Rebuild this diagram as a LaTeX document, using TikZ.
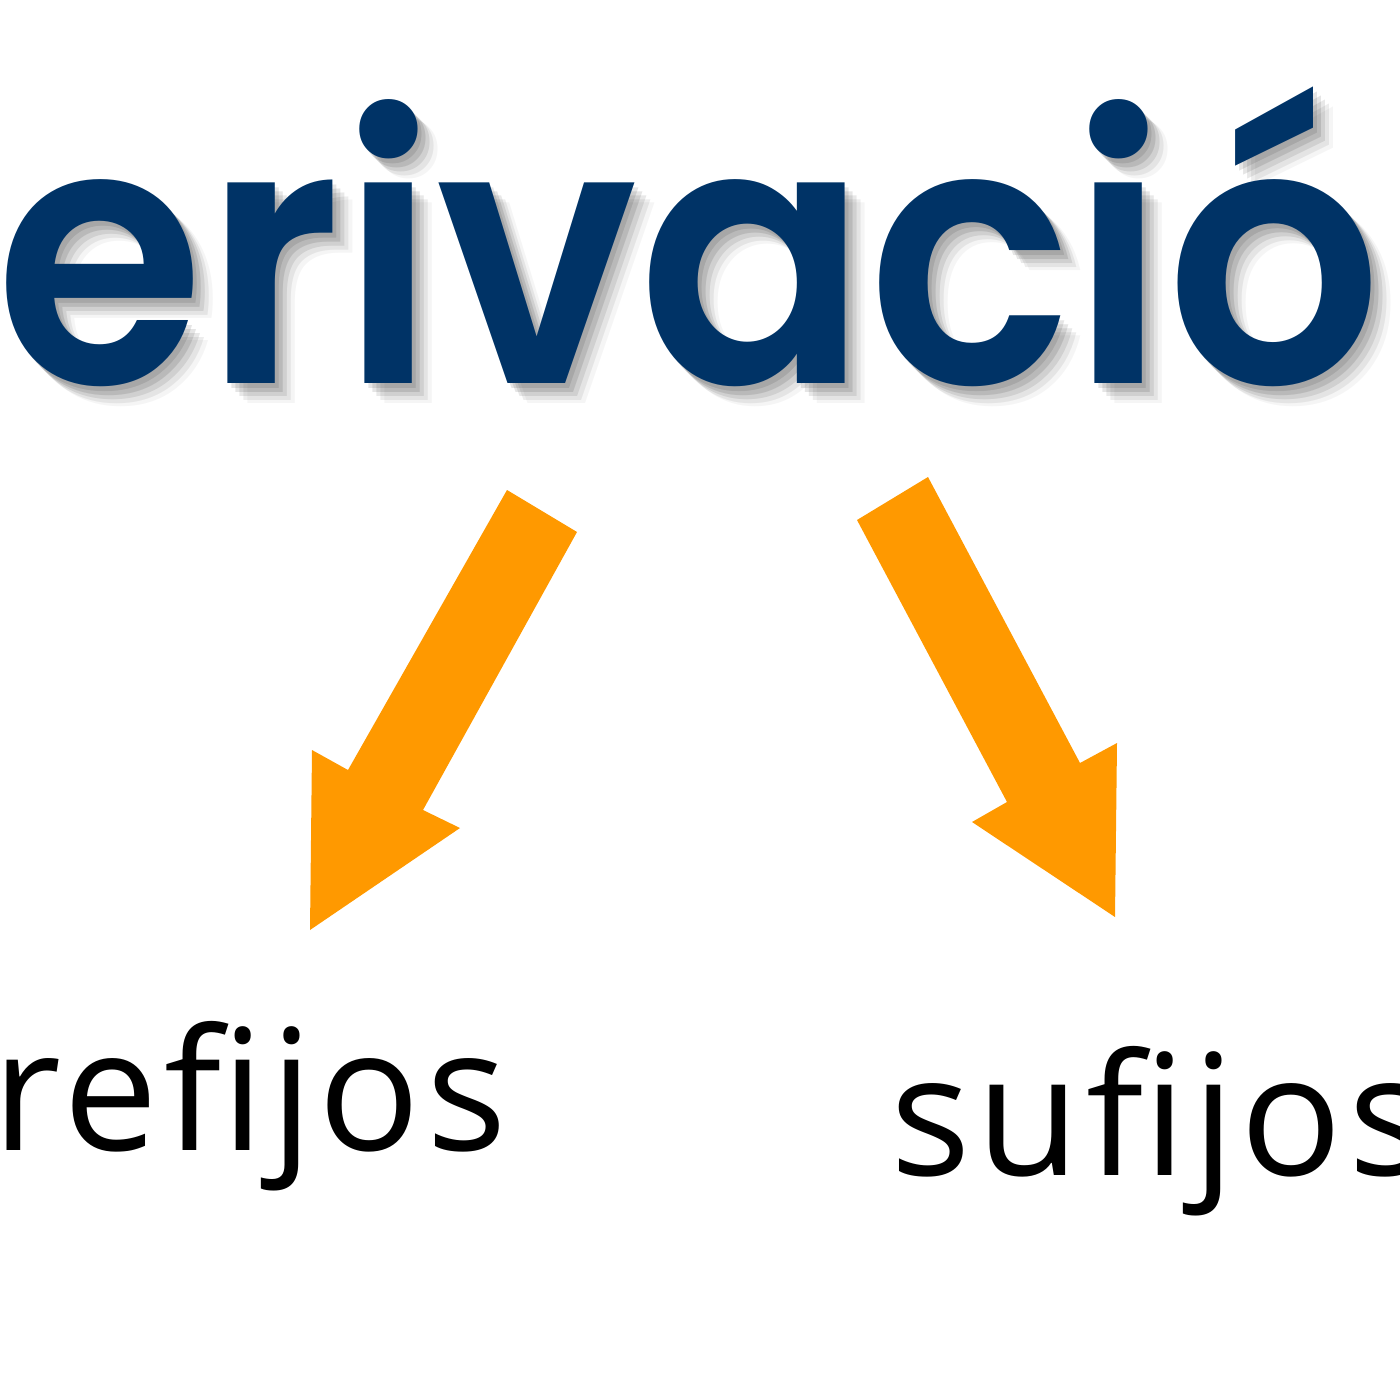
\documentclass[tikz,border=0pt]{standalone}
\usepackage{fontspec}
\newfontfamily\titlefont{Poppins SemiBold}[FakeStretch=0.935]
\newfontfamily\labelfont{Open Sans}[LetterSpace=3.5]
\definecolor{titleblue}{HTML}{003366}
\definecolor{arroworange}{HTML}{FF9900}
\newcommand\titlesize{\titlefont\fontsize{103}{110}\selectfont}
\newlength\dwid
\begin{document}
\settowidth{\dwid}{\titlesize d}%
\begin{tikzpicture}[x=0.01cm,y=-0.01cm,
  titletext/.style={anchor=base west, inner sep=0pt, font=\titlesize},
  labeltext/.style={inner sep=0pt, font=\labelfont\fontsize{48}{54}\selectfont},
  blockarrow/.style={fill=arroworange, draw=none}]
\useasboundingbox (0,0) rectangle (1400,1400);
\clip (0,0) rectangle (1400,1400);
% shadow
\foreach \dx/\dy/\op in {4/5/0.10,8/9/0.10,12/13/0.09,16/17/0.07,20/20/0.04}{
  \node[titletext, text=black, opacity=\op] at ([xshift=-\dwid]\dx-5,383+\dy) {derivación};
}
\node[titletext, text=titleblue] (title) at ([xshift=-\dwid]-5,383) {derivación};
% arrows
\fill[blockarrow] (507,490) -- (577,532) -- (423,810) -- (460,828) -- (310,930) -- (312,750) -- (348,770) -- cycle;
\fill[blockarrow] (857,520) -- (928,477) -- (1080,763) -- (1117,743) -- (1115,917) -- (972,822) -- (1007,802) -- cycle;
% labels
\node[labeltext, anchor=base east] (pre) at (508,1150) {prefijos};
\node[labeltext, anchor=base west] (suf) at (890,1175) {sufijos};
\end{tikzpicture}
\end{document}
